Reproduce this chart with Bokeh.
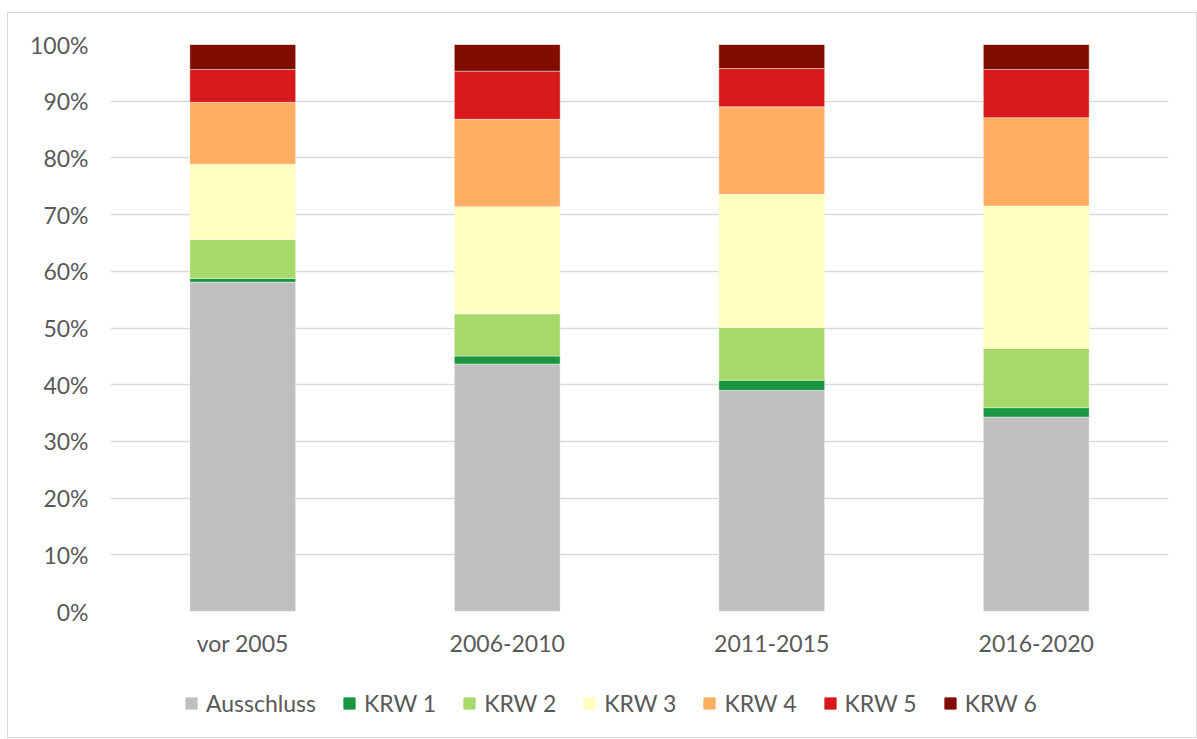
from bokeh.plotting import figure
from bokeh.layouts import column
from bokeh.models import (ColumnDataSource, FactorRange, Range1d, FixedTicker,
                          NumeralTickFormatter, Legend, LegendItem)
from bokeh.embed import file_html
from bokeh.resources import INLINE

categories = ["vor 2005", "2006-2010", "2011-2015", "2016-2020"]
series_names = ["Ausschluss", "KRW 1", "KRW 2", "KRW 3", "KRW 4", "KRW 5", "KRW 6"]
ausschluss = [0.581, 0.4365, 0.390, 0.343]
krw1 = [0.0065, 0.014, 0.018, 0.0165]
krw2 = [0.0685, 0.0745, 0.093, 0.1045]
krw3 = [0.133, 0.189, 0.235, 0.251]
krw4 = [0.109, 0.154, 0.154, 0.156]
krw5 = [0.058, 0.085, 0.0675, 0.085]
krw6 = [0.044, 0.047, 0.043, 0.044]
colors = ["#BFBFBF", "#1A9641", "#A6D96A", "#FFFFBF", "#FDAE61", "#D7191C", "#7F0E00"]
y_ticks = [0, 0.1, 0.2, 0.3, 0.4, 0.5, 0.6, 0.7, 0.8, 0.9, 1.0]

FONT = "Lato"
TXT = "#595959"
stackers = ["s0", "s1", "s2", "s3", "s4", "s5", "s6"]

src = ColumnDataSource(dict(cat=categories, s0=ausschluss, s1=krw1, s2=krw2, s3=krw3,
                            s4=krw4, s5=krw5, s6=krw6))

# main chart
p = figure(x_range=FactorRange(*categories), y_range=Range1d(0, 1),
           width=1188, height=660, output_backend="svg", toolbar_location=None,
           min_border_left=102, min_border_right=28, min_border_top=31, min_border_bottom=62)
p.outline_line_color = None

p.vbar_stack(stackers, x="cat", width=0.4, color=colors,
             line_color="white", line_width=0.8, line_alpha=0.5, source=src)

p.xgrid.grid_line_color = None
p.ygrid.grid_line_color = "#D9D9D9"
p.ygrid.grid_line_width = 1.5
p.ygrid.ticker = FixedTicker(ticks=y_ticks)

p.yaxis.ticker = FixedTicker(ticks=y_ticks)
p.yaxis.formatter = NumeralTickFormatter(format="0%")
for ax in (p.xaxis, p.yaxis):
    ax.axis_line_color = None
    ax.major_tick_line_color = None
    ax.minor_tick_line_color = None
    ax.major_tick_in = 0
    ax.major_tick_out = 0
    ax.major_label_text_font = FONT
    ax.major_label_text_font_size = "23px"
    ax.major_label_text_color = TXT
p.yaxis.major_label_standoff = 22
p.xaxis.major_label_standoff = 17

# legend strip (same series drawn outside its visible range, only the legend shows)
p2 = figure(x_range=FactorRange(*categories), y_range=Range1d(5, 6),
            width=1188, height=64, output_backend="svg", toolbar_location=None,
            x_axis_location=None, y_axis_location=None,
            min_border_left=0, min_border_right=0, min_border_top=0, min_border_bottom=0)
p2.outline_line_color = None
p2.grid.visible = False
leg_renderers = p2.vbar_stack(stackers, x="cat", width=0.4, color=colors, source=src)

legend = Legend(items=[LegendItem(label=n, renderers=[r]) for n, r in zip(series_names, leg_renderers)],
                orientation="horizontal", location=(74, 20),
                label_text_font=FONT, label_text_font_size="23px", label_text_color=TXT,
                glyph_width=14, glyph_height=14, label_standoff=8, spacing=26,
                border_line_color=None, background_fill_alpha=0, padding=0, margin=0)
p2.add_layout(legend)

layout = column(p, p2, spacing=0)
layout.margin = (12, 0, 0, 7)
layout.styles = {"border": "1px solid #D9D9D9"}

open("out.html", "w").write(file_html(layout, INLINE))
